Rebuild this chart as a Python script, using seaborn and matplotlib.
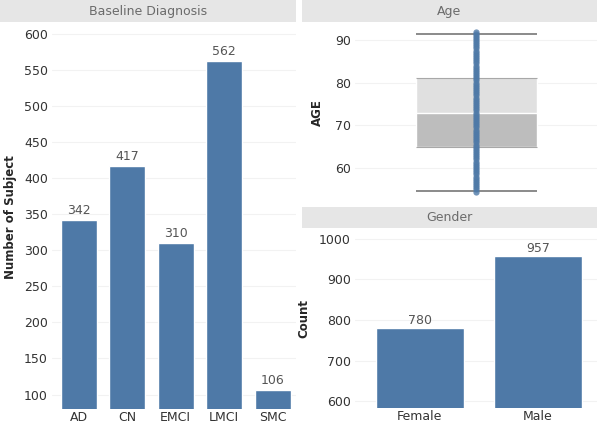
import numpy as np
import pandas as pd
import matplotlib
matplotlib.use("Agg")
import matplotlib.pyplot as plt
import seaborn as sns

# data
diagnosis = ["AD", "CN", "EMCI", "LMCI", "SMC"]
diagnosis_counts = [342, 417, 310, 562, 106]
gender = ["Female", "Male"]
gender_counts = [780, 957]
age_min, age_q1, age_median, age_q3, age_max = 54.5, 65.0, 73.0, 81.2, 91.5
ages = [54.4, 55, 55.5, 56, 56.5, 57, 57.5, 58, 58.5, 59, 59.5, 60, 60.5,
        61, 61.5, 62, 62.5, 63, 63.5, 64, 64.5, 65, 65.5, 66, 66.5, 67,
        67.5, 68, 68.5, 69, 69.5, 70, 70.5, 71, 71.5, 72, 72.5, 73, 73.5,
        74, 74.5, 75, 75.5, 76, 76.5, 77, 77.5, 78, 78.5, 79, 79.5, 80,
        80.5, 81, 81.5, 82, 82.5, 83, 83.5, 84, 84.5, 85, 85.5, 86, 86.5,
        87, 87.5, 88, 88.5, 89, 89.5, 90, 90.5, 91, 91.4, 91.8]

blue = "#4e79a7"
header_bg = "#e6e6e6"
header_fg = "#6b6b6b"
tick_fg = "#333333"
grid_c = "#f2f2f2"

sns.set_style("white")
plt.rcParams["font.family"] = ["DejaVu Sans"]

W, H = 597, 425
fig = plt.figure(figsize=(W / 100, H / 100), dpi=100)


def box(x0, y0, x1, y1):
    return [x0 / W, 1 - y1 / H, (x1 - x0) / W, (y1 - y0) / H]


def header(rect, text):
    hx = fig.add_axes(rect)
    hx.set_facecolor(header_bg)
    hx.set_xticks([])
    hx.set_yticks([])
    for s in hx.spines.values():
        s.set_visible(False)
    hx.text(0.5, 0.5, text, ha="center", va="center", fontsize=9, color=header_fg)


def style(ax):
    for s in ax.spines.values():
        s.set_visible(False)
    ax.grid(axis="y", color=grid_c, lw=0.8)
    ax.set_axisbelow(True)
    ax.tick_params(axis="both", length=0, labelsize=9, labelcolor=tick_fg, pad=3)
    ax.tick_params(axis="x", pad=1.5)


# --- Baseline Diagnosis ---
header(box(0, 0, 296, 22), "Baseline Diagnosis")
ax1 = fig.add_axes(box(52, 25, 296, 409))
df_dx = pd.DataFrame({"dx": diagnosis, "n": diagnosis_counts})
sns.barplot(data=df_dx, x="dx", y="n", color=blue, saturation=1, width=0.74, ax=ax1)
ax1.set_ylim(80, 612)
ax1.set_xlim(-0.55, 4.48)
ax1.set_yticks(range(100, 601, 50))
style(ax1)
ax1.set_xlabel("")
ax1.set_ylabel("Number of Subject", fontsize=8.5, fontweight="bold", labelpad=5)
for i, v in enumerate(diagnosis_counts):
    ax1.text(i, v + 4, str(v), ha="center", va="bottom", fontsize=9, color="#555555")

# --- Age ---
header(box(302, 0, 597, 22), "Age")
ax2 = fig.add_axes(box(355, 25, 597, 200))
ax2.bar(0, age_median - age_q1, bottom=age_q1, width=1.0, color="#bdbdbd", zorder=1)
ax2.bar(0, age_q3 - age_median, bottom=age_median, width=1.0, color="#e0e0e0", zorder=1)
ax2.hlines([age_min, age_max, age_q3, age_q1], -0.5, 0.5,
           colors=["#777777", "#777777", "#a8a8a8", "#a8a8a8"], lw=[1.2, 1.2, 0.8, 0.8], zorder=2)
df_age = pd.DataFrame({"x": [0] * len(ages), "AGE": ages})
sns.stripplot(data=df_age, x="x", y="AGE", native_scale=True, jitter=False,
              color=blue, size=4.5, alpha=0.8, linewidth=0, ax=ax2, zorder=3)
ax2.set_xlim(-1, 1)
ax2.set_ylim(52.5, 93.5)
ax2.set_yticks([60, 70, 80, 90])
ax2.set_xticks([])
style(ax2)
ax2.set_xlabel("")
ax2.set_ylabel("AGE", fontsize=8.5, fontweight="bold", labelpad=8)

# --- Gender ---
header(box(302, 207, 597, 228), "Gender")
ax3 = fig.add_axes(box(355, 230, 597, 408))
df_g = pd.DataFrame({"g": gender, "n": gender_counts})
sns.barplot(data=df_g, x="g", y="n", color=blue, saturation=1, width=0.74, ax=ax3)
ax3.set_ylim(583, 1022)
ax3.set_xlim(-0.55, 1.5)
ax3.set_yticks([600, 700, 800, 900, 1000])
style(ax3)
ax3.set_xlabel("")
ax3.set_ylabel("Count", fontsize=8.5, fontweight="bold", labelpad=6)
for i, v in enumerate(gender_counts):
    ax3.text(i, v + 4, str(v), ha="center", va="bottom", fontsize=9, color="#555555")

fig.savefig("out.png", dpi=100, facecolor="white")
